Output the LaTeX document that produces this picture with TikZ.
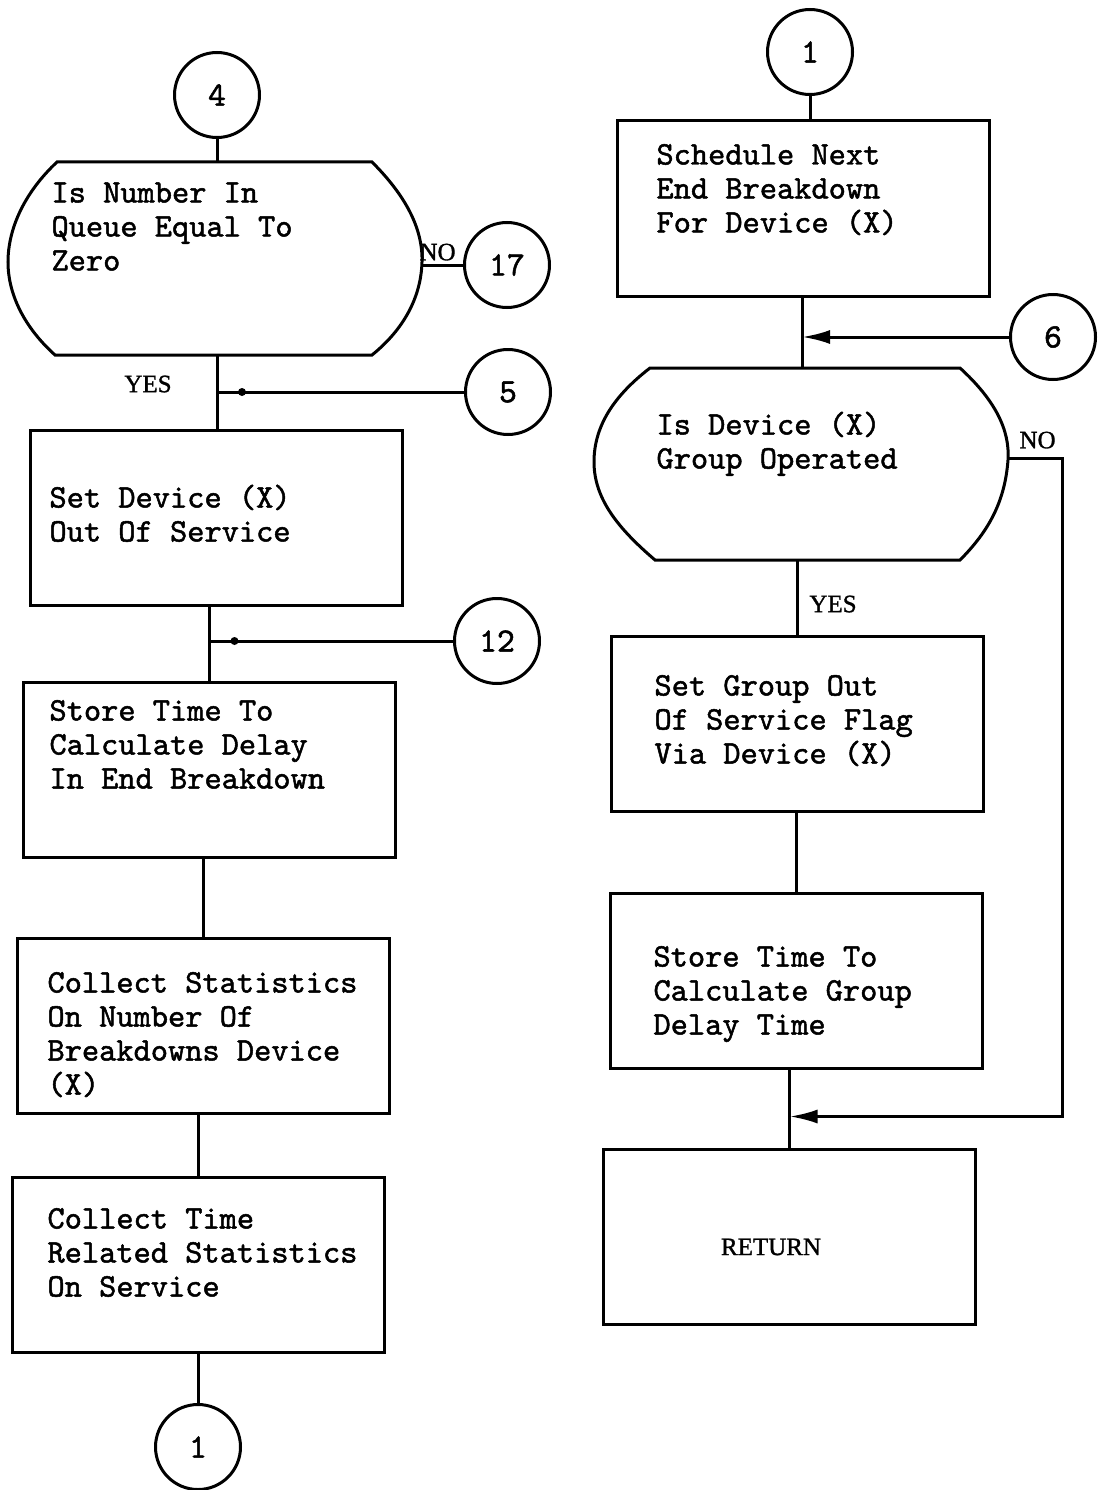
\documentclass[tikz,border=0pt]{standalone}
\usepackage{fontspec}
\newfontfamily\twfont[FakeBold=1.5]{lmmono10-regular.otf}
\newfontfamily\lblfont[FakeBold=1.2]{Liberation Serif}
\usetikzlibrary{arrows.meta, decorations.markings, positioning, calc}
\newcommand\tstrut{\rule{0pt}{25pt}}

\begin{document}
\begin{tikzpicture}[
  x=1pt, y=-1pt, line width=3pt,
  > = {Latex[length=28pt,width=14pt]},
  box/.style = {draw, rectangle, minimum width=372pt, minimum height=175pt, inner sep=0pt},
  conn/.style = {draw, circle, minimum size=85pt, inner sep=0pt, font=\twfont\fontsize{34}{36}\selectfont},
  txt/.style = {anchor=north west, inner sep=0pt, align=left, font=\twfont\fontsize{32.8}{34}\selectfont},
  lbl/.style = {inner sep=0pt, font=\lblfont\fontsize{25}{28}\selectfont},
  dot inside/.style = {postaction=decorate,decoration={markings,mark=at position -25pt with {\fill (0,0) circle (4pt);}}}
  ]
  \useasboundingbox (0,0) rectangle (1101,1490);

  % left column
  \node[conn] (c4) at (217,95) {4};
  \coordinate (qtop) at (217,162);
  \coordinate (qbot) at (217,355);
  \coordinate (qright) at (422,265);
  \draw (57,162) -- (372,162) .. controls (405,195) and (423,228) .. (422,262)
    .. controls (421,298) and (403,330) .. (372,355) -- (55,355)
    .. controls (25,328) and (8,295) .. (8,262) .. controls (8,228) and (25,192) .. (57,162) -- cycle;
  \node[txt] (qtxt) at (50,176) {\tstrut Is Number In\\Queue Equal To\\Zero};
  \node[conn] (c17) at (507,265) {17};
  \node[lbl, anchor=south west] (qno) at (418,262) {NO};
  \node[lbl] (qyes) at (148,384) {YES};
  \node[conn] (c5) at (508,392) {5};

  \node[box] (b1) at (216,517.5) {};
  \node[txt] (b1txt) at (48,481) {\tstrut Set Device (X)\\Out Of Service};
  \node[conn] (c12) at (497,641) {12};
  \node[box] (b2) at (209.5,770) {};
  \node[txt] (b2txt) at (48,694) {\tstrut Store Time To\\Calculate Delay\\In End Breakdown};
  \node[box] (b3) at (203,1025.5) {};
  \node[txt] (b3txt) at (46,966) {\tstrut Collect Statistics\\On Number Of\\Breakdowns Device\\(X)};
  \node[box] (b4) at (198.5,1264.5) {};
  \node[txt] (b4txt) at (46,1202) {\tstrut Collect Time\\Related Statistics\\On Service};
  \node[conn] (c1b) at (198,1447) {1};

  \draw (c4) -- (qtop);
  \draw (qright) -- (c17);
  \draw (qbot) -- (qbot |- b1.north);
  \draw[dot inside] (c5) -- (c5 -| qbot);
  \draw (b2.north) -- (b2.north |- b1.south);
  \draw[dot inside] (c12) -- (c12 -| b2.north);
  \draw (b3.north) -- (b3.north |- b2.south);
  \draw (b4.north) -- (b4.north |- b3.south);
  \draw (c1b) -- (c1b |- b4.south);

  % right column
  \node[conn] (c1t) at (810,52) {1};
  \node[box] (r1) at (803.5,208.5) {};
  \node[txt] (r1txt) at (655,138) {\tstrut Schedule Next\\End Breakdown\\For Device (X)};
  \node[conn] (c6) at (1053,337) {6};
  \coordinate (q2top) at (802,368);
  \coordinate (q2bot) at (797,560);
  \coordinate (q2right) at (1008,458);
  \draw (650,368) -- (960,368) .. controls (995,400) and (1010,430) .. (1008,460)
    .. controls (1005,500) and (990,530) .. (960,560) -- (655,560)
    .. controls (620,530) and (594,500) .. (594,462) .. controls (594,425) and (615,395) .. (650,368) -- cycle;
  \node[txt] (q2txt) at (655,408) {\tstrut Is Device (X)\\Group Operated};
  \node[lbl, anchor=south west] (q2no) at (1018,450) {NO};
  \node[lbl] (q2yes) at (833,604) {YES};
  \node[box] (r2) at (797.5,724) {};
  \node[txt] (r2txt) at (653,669) {\tstrut Set Group Out\\Of Service Flag\\Via Device (X)};
  \node[box] (r3) at (796.5,980.5) {};
  \node[txt] (r3txt) at (652,940) {\tstrut Store Time To\\Calculate Group\\Delay Time};
  \node[box] (r4) at (789.5,1236.5) {};
  \node[lbl] (r4txt) at (771,1247) {RETURN};

  \draw (c1t) -- (c1t |- r1.north);
  \draw (q2top |- r1.south) -- (q2top);
  \draw[->] (c6) -- (c6 -| q2top);
  \draw[->] (q2right) -- ++(54,0) |- ($(r4.north)+(0,-31)$);
  \draw (q2bot) -- (q2bot |- r2.north);
  \draw (r3.north) -- (r3.north |- r2.south);
  \draw (r4.north) -- (r4.north |- r3.south);
\end{tikzpicture}
\end{document}
